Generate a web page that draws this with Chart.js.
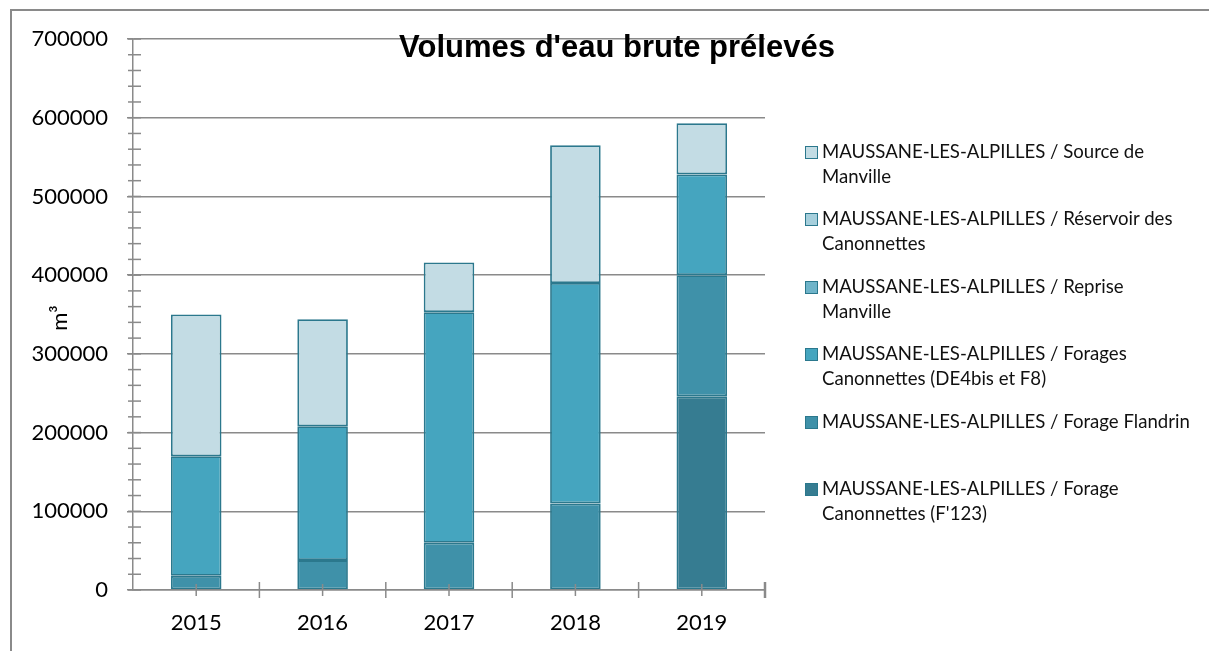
<!DOCTYPE html>
<html>
<head>
<meta charset="utf-8">
<script src="https://cdn.jsdelivr.net/npm/chart.js@4.4.1/dist/chart.umd.min.js"></script>
<style>
  body { margin: 0; background: #fff; }
  #wrap { position: relative; width: 1209px; height: 651px; overflow: hidden; }
  #frame { position: absolute; left: 10px; top: 9px; right: 0; bottom: -5px;
           border-top: 2px solid #8a8a8a; border-left: 2px solid #8a8a8a; }
  canvas { position: absolute; left: 0; top: 0; }
  #legend { position: absolute; left: 0; top: 0; font-family: Lato, sans-serif; font-size: 18.6px; color: #111; }
  .item { position: absolute; left: 805px; white-space: nowrap; line-height: 25px; }
  .box { position: absolute; left: 0; top: 7px; width: 11px; height: 11px; border: 1px solid #2b788d; }
  .txt { position: absolute; left: 17px; top: 0; }
</style>
</head>
<body>
<div id="wrap">
  <div id="frame"></div>
  <canvas id="canvas" width="1209" height="651"></canvas>
  <div id="legend"></div>
</div>
<script>
// data (m3)
var years = ['2015', '2016', '2017', '2018', '2019'];
var forageF123 = [0, 0, 0, 0, 246000];
var forageFlandrin = [18000, 38000, 60000, 110000, 154000];
var foragesCanonnettes = [152000, 170000, 293000, 280000, 128000];
var repriseManville = [0, 0, 0, 0, 0];
var reservoirCanonnettes = [0, 0, 0, 0, 0];
var sourceManville = [180000, 136000, 63000, 175000, 65000];
var yTicks = [0, 100000, 200000, 300000, 400000, 500000, 600000, 700000];

// legend lines, bottom of the stack first
var labelLines = [
  ['MAUSSANE-LES-ALPILLES / Forage', "Canonnettes (F'123)"],
  ['MAUSSANE-LES-ALPILLES / Forage Flandrin'],
  ['MAUSSANE-LES-ALPILLES / Forages', 'Canonnettes (DE4bis et F8)'],
  ['MAUSSANE-LES-ALPILLES / Reprise', 'Manville'],
  ['MAUSSANE-LES-ALPILLES / Réservoir des', 'Canonnettes'],
  ['MAUSSANE-LES-ALPILLES / Source de', 'Manville']
];
var series = [forageF123, forageFlandrin, foragesCanonnettes, repriseManville, reservoirCanonnettes, sourceManville];
var fills = ['#367c91', '#3f91a9', '#45a5bf', '#6fb4c9', '#a6cfdc', '#c3dce4'];
var axisGray = '#8a8a8a';

var datasets = series.map(function (d, i) {
  return {
    label: labelLines[i].join(' '),
    data: d,
    backgroundColor: fills[i],
    borderColor: '#2b788d',
    // empty segments get no outline
    borderWidth: function (c) { return c.raw ? 1.8 : 0; },
    borderSkipped: false,
    barPercentage: 0.4,
    categoryPercentage: 1
  };
});

// crossing tick marks, axis title and chart title
var extras = {
  id: 'extras',
  afterDraw: function (chart) {
    var ctx = chart.ctx, x = chart.scales.x, y = chart.scales.y;
    var a = chart.chartArea;
    ctx.save();
    ctx.strokeStyle = axisGray;
    ctx.lineWidth = 1.5;
    for (var v = 0; v <= 700000; v += 20000) {
      var py = y.getPixelForValue(v);
      ctx.beginPath(); ctx.moveTo(a.left - 5, py); ctx.lineTo(a.left + 8, py); ctx.stroke();
    }
    var step = x.getPixelForValue(1) - x.getPixelForValue(0);
    for (var i = 0; i < years.length; i++) {
      var cx = x.getPixelForValue(i);
      ctx.beginPath(); ctx.moveTo(cx, a.bottom - 6); ctx.lineTo(cx, a.bottom + 6); ctx.stroke();
      var bx = cx + step / 2;
      ctx.lineWidth = (i == years.length - 1) ? 2.5 : 1.5;
      ctx.beginPath(); ctx.moveTo(bx, a.bottom - 8); ctx.lineTo(bx, a.bottom + 8); ctx.stroke();
      ctx.lineWidth = 1.5;
    }
    ctx.fillStyle = '#000';
    ctx.save();
    ctx.translate(60, 318);
    ctx.rotate(-Math.PI / 2);
    ctx.font = '22px Lato, sans-serif';
    ctx.textAlign = 'center';
    ctx.textBaseline = 'middle';
    ctx.fillText('m³', 0, 0);
    ctx.restore();
    ctx.font = 'bold 31px "Liberation Sans", Arial, sans-serif';
    ctx.textAlign = 'center';
    ctx.textBaseline = 'alphabetic';
    ctx.fillText("Volumes d'eau brute prélevés", 617, 57);
    ctx.restore();
  }
};

var ctx = document.getElementById('canvas').getContext('2d');
var chart = new Chart(ctx, {
  type: 'bar',
  data: { labels: years, datasets: datasets },
  options: {
    responsive: false,
    animation: false,
    layout: { padding: { top: 39, right: 444, left: 0, bottom: 0 } },
    plugins: { legend: { display: false }, title: { display: false }, tooltip: { enabled: false } },
    scales: {
      x: {
        stacked: true,
        grid: { display: false },
        border: { display: true, color: axisGray, width: 1.5 },
        ticks: { color: '#000', font: { family: 'Lato', size: 22 }, padding: 12 },
        afterFit: function (s) { s.height = 61; }
      },
      y: {
        stacked: true,
        min: 0,
        max: 700000,
        afterBuildTicks: function (s) { s.ticks = yTicks.map(function (v) { return { value: v }; }); },
        grid: { color: axisGray, lineWidth: 1.5, tickLength: 6, tickColor: axisGray },
        border: { display: true, color: axisGray, width: 1.5 },
        ticks: {
          color: '#000', font: { family: 'Lato', size: 22 }, padding: 19,
          callback: function (v) { return String(v); }
        },
        afterFit: function (s) { s.width = 133; }
      }
    }
  },
  plugins: [extras]
});

// html legend, top entry = top of the stack
var legend = document.getElementById('legend');
for (var k = 0; k < labelLines.length; k++) {
  var idx = labelLines.length - 1 - k;
  var item = document.createElement('div');
  item.className = 'item';
  item.style.top = (139 + k * 67.4) + 'px';
  var box = document.createElement('span');
  box.className = 'box';
  box.style.background = fills[idx];
  var txt = document.createElement('span');
  txt.className = 'txt';
  txt.innerHTML = labelLines[idx].join('<br>');
  item.appendChild(box);
  item.appendChild(txt);
  legend.appendChild(item);
}
</script>
</body>
</html>
